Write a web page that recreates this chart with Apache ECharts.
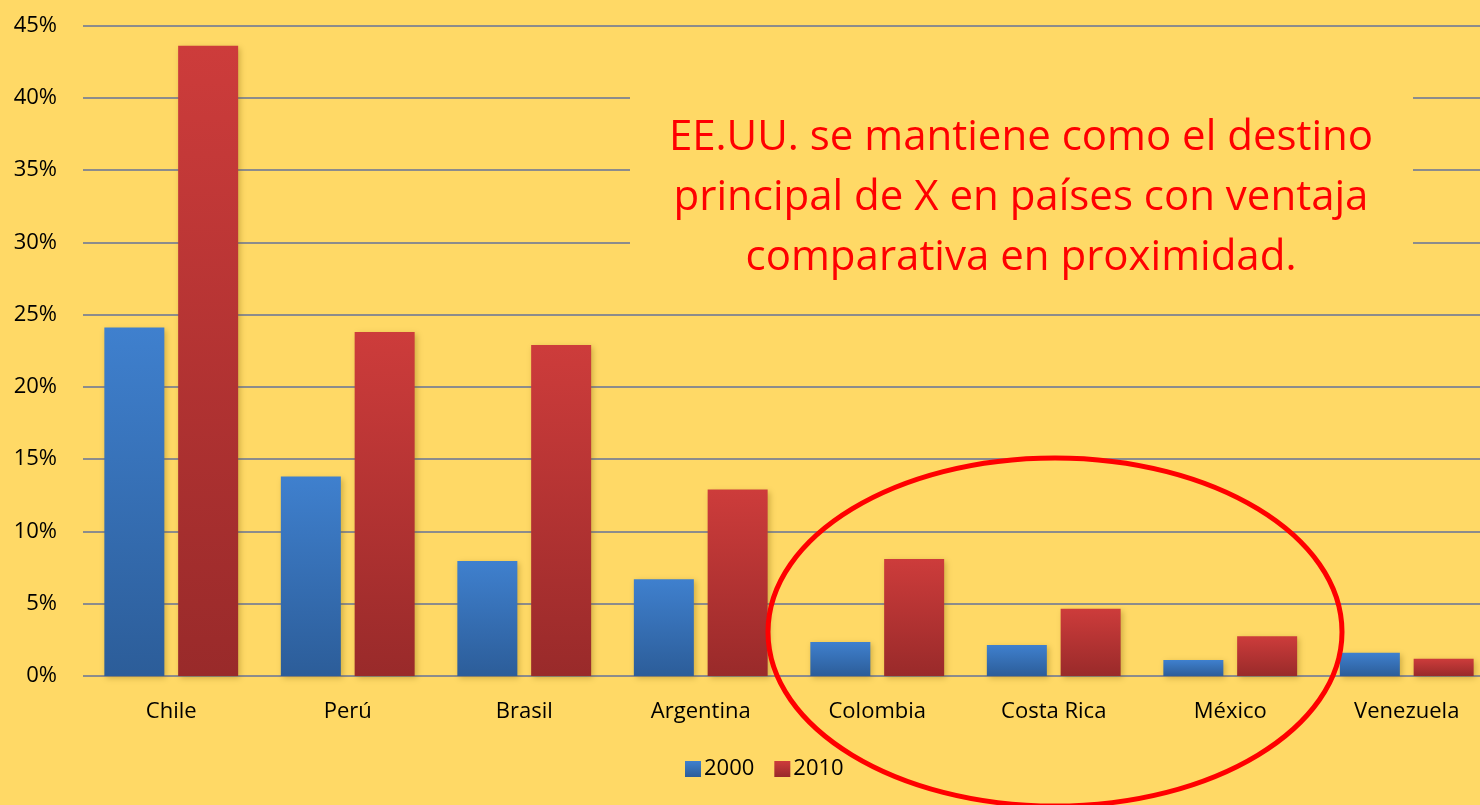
<!DOCTYPE html>
<html>
<head>
<meta charset="utf-8">
<script src="https://cdn.jsdelivr.net/npm/echarts@6/dist/echarts.min.js"></script>
<style>
  html, body { margin: 0; padding: 0; background: #ffd966; overflow: hidden; }
  /* wider than the window: the plot runs a bit past the right edge, like the original slide */
  #chart { width: 1500px; height: 805px; }
</style>
</head>
<body>
<div id="chart"></div>
<script>
const countries = ['Chile', 'Perú', 'Brasil', 'Argentina', 'Colombia', 'Costa Rica', 'México', 'Venezuela']
const values2000 = [24.1, 13.8, 7.95, 6.7, 2.35, 2.15, 1.1, 1.6]
const values2010 = [43.6, 23.8, 22.9, 12.9, 8.1, 4.65, 2.75, 1.2]
const seriesNames = ['2000', '2010']
const note = ['EE.UU. se mantiene como el destino', 'principal de X en países con ventaja', 'comparativa en proximidad.']

const font = '"Open Sans", "Noto Sans", sans-serif'

function grad(top, bottom) {
  return new echarts.graphic.LinearGradient(0, 0, 0, 1, [
    { offset: 0, color: top },
    { offset: 1, color: bottom },
  ])
}

const chart = echarts.init(document.getElementById('chart'))
chart.setOption({
  backgroundColor: '#ffd966',
  animation: false,
  textStyle: { fontFamily: font },
  grid: { left: 83, right: 5, top: 25.5, bottom: 129, containLabel: false },
  legend: {
    left: 680,
    top: 753,
    itemWidth: 16,
    itemHeight: 16,
    itemGap: 20,
    icon: 'rect',
    textStyle: { color: '#000', fontSize: 22, fontFamily: font, padding: [0, 0, 0, -2] },
    data: seriesNames,
  },
  xAxis: {
    type: 'category',
    data: countries,
    axisLine: { show: false },
    axisTick: { show: false },
    axisLabel: { color: '#000', fontSize: 22, margin: 25, fontFamily: font },
  },
  yAxis: {
    type: 'value',
    min: 0,
    max: 45,
    interval: 5,
    axisLine: { show: false },
    axisTick: { show: false },
    axisLabel: { color: '#000', fontSize: 22, margin: 26, formatter: '{value}%', fontFamily: font },
    splitLine: { lineStyle: { color: '#8c8c8c', width: 2 } },
  },
  series: [
    {
      name: seriesNames[0],
      type: 'bar',
      data: values2000,
      barWidth: 60,
      barGap: '23%',
      itemStyle: {
        color: grad('#3f80ce', '#2c5d99'),
        shadowColor: 'rgba(120,90,0,0.35)',
        shadowBlur: 6,
        shadowOffsetX: 2,
        shadowOffsetY: 2,
      },
    },
    {
      name: seriesNames[1],
      type: 'bar',
      data: values2010,
      barWidth: 60,
      itemStyle: {
        color: grad('#cd3c3b', '#992a2a'),
        shadowColor: 'rgba(120,90,0,0.35)',
        shadowBlur: 6,
        shadowOffsetX: 2,
        shadowOffsetY: 2,
      },
    },
  ],
  graphic: [
    {
      type: 'rect',
      shape: { x: 630, y: 96, width: 783, height: 196 },
      style: { fill: '#ffd966' },
      z: 10,
    },
    {
      type: 'text',
      x: 1021,
      y: 108,
      z: 11,
      style: {
        text: note.join('\n'),
        fill: '#ff0000',
        font: '42px ' + font,
        lineHeight: 60,
        align: 'center',
        verticalAlign: 'top',
      },
    },
    {
      type: 'ellipse',
      shape: { cx: 1055, cy: 632, rx: 287, ry: 174 },
      style: { fill: 'none', stroke: '#ff0000', lineWidth: 5 },
      z: 12,
    },
  ],
})
</script>
</body>
</html>
